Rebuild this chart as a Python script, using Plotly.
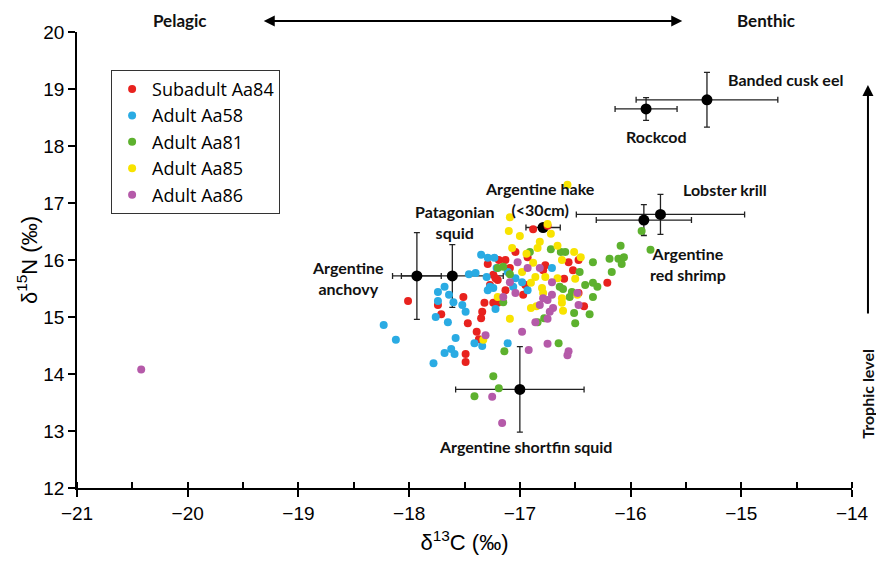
import plotly.graph_objects as go

# ---------------- data ----------------
group_names = ["Subadult Aa84", "Adult Aa58", "Adult Aa81", "Adult Aa85", "Adult Aa86"]
group_colors = ["#e8221e", "#2aabe3", "#5db12e", "#f8e300", "#b55aa9"]

red_c13 = [-18.01, -17.74, -17.71, -17.51, -17.47, -17.39, -17.37, -17.49, -17.49, -17.34,
           -17.35, -17.32, -17.24, -17.20, -17.29, -17.24, -17.20, -16.88, -16.75, -17.04,
           -17.13, -17.19, -16.93, -16.77, -16.79, -16.56, -16.47, -16.52, -16.60, -16.95,
           -17.22, -16.97, -16.21, -16.47, -16.42, -17.13, -17.09, -17.27]
red_n15 = [15.28, 15.21, 15.05, 15.35, 14.89, 14.74, 14.61, 14.35, 14.21, 15.09,
           14.98, 15.25, 15.25, 15.25, 15.93, 15.74, 15.65, 16.54, 16.60, 16.14,
           16.00, 16.00, 16.05, 15.91, 15.82, 15.96, 16.00, 15.82, 15.67, 15.56,
           15.68, 15.39, 15.60, 15.42, 15.19, 15.47, 15.86, 15.56]

blue_c13 = [-18.23, -18.12, -17.78, -17.76, -17.74, -17.74, -17.65, -17.64, -17.60, -17.52,
            -17.49, -17.58, -17.68, -17.62, -17.59, -17.41, -17.34, -17.29, -17.22, -17.35,
            -17.29, -17.23, -17.46, -17.40, -17.30, -17.27, -17.68, -16.71, -17.04, -17.06,
            -16.93, -17.11, -17.24, -17.21, -17.11, -16.98]
blue_n15 = [14.86, 14.60, 14.19, 15.00, 15.28, 15.44, 14.91, 15.39, 15.26, 15.21,
            15.09, 14.63, 14.37, 14.44, 14.35, 14.54, 14.49, 15.47, 15.14, 16.09,
            16.04, 16.04, 15.75, 15.77, 15.70, 15.53, 15.53, 15.86, 15.68, 15.53,
            15.47, 15.79, 15.51, 15.86, 14.54, 15.61]

green_c13 = [-17.20, -16.91, -16.72, -16.63, -16.59, -16.34, -16.19, -16.11, -16.06, -16.08,
             -16.09, -16.17, -16.46, -17.15, -17.09, -16.64, -16.61, -16.53, -16.41, -16.34,
             -16.30, -16.55, -16.34, -17.15, -16.84, -16.78, -16.51, -16.50, -16.37, -16.65,
             -17.14, -17.24, -17.19, -17.41, -15.82, -15.90]
green_n15 = [15.86, 16.14, 16.19, 16.14, 16.14, 15.96, 16.02, 16.02, 16.05, 15.93,
             16.25, 15.79, 15.79, 15.88, 15.75, 15.53, 15.49, 15.44, 15.56, 15.60,
             15.53, 15.35, 15.35, 15.26, 14.91, 14.98, 15.07, 14.89, 15.05, 14.54,
             14.40, 13.96, 13.75, 13.61, 16.18, 16.51]

yellow_c13 = [-16.57, -17.09, -17.10, -17.00, -16.72, -16.75, -16.82, -16.84, -17.07, -16.94,
              -16.66, -16.51, -16.45, -16.62, -16.88, -16.86, -16.77, -16.98, -16.66, -16.50,
              -16.80, -16.90, -16.79, -17.20, -16.62, -16.48, -17.09, -16.90, -16.85, -16.61,
              -16.62, -17.33]
yellow_n15 = [17.32, 16.75, 16.51, 16.42, 16.46, 16.63, 16.32, 16.21, 16.21, 16.11,
              16.25, 16.14, 16.05, 16.00, 15.95, 15.70, 15.70, 15.79, 15.68, 15.67,
              15.51, 15.60, 15.42, 15.35, 15.33, 15.39, 14.97, 15.16, 15.19, 15.11,
              15.25, 14.60]

purple_c13 = [-20.42, -17.02, -16.93, -16.82, -16.71, -17.09, -17.04, -16.79, -17.15, -16.48,
              -16.71, -16.75, -16.70, -16.73, -16.82, -16.86, -16.75, -16.98, -16.92, -16.75,
              -16.56, -16.57, -16.47, -17.31, -17.25, -17.16]
purple_n15 = [14.08, 15.96, 15.86, 15.86, 15.61, 15.61, 15.42, 15.33, 15.35, 15.42,
              15.39, 15.30, 15.16, 15.09, 15.21, 14.91, 14.97, 14.74, 14.42, 14.53,
              14.40, 14.33, 15.21, 14.68, 13.60, 13.14]

# prey means (mean +/- SD)
prey_names = ["Argentine anchovy", "Patagonian squid", "Argentine hake (<30cm)", "Rockcod",
              "Banded cusk eel", "Lobster krill", "Argentine red shrimp", "Argentine shortfin squid"]
prey_c13 = [-17.93, -17.61, -16.79, -15.86, -15.31, -15.73, -15.88, -17.00]
prey_n15 = [15.72, 15.72, 16.57, 18.65, 18.81, 16.80, 16.70, 13.73]
prey_c13_sd = [0.22, 0.46, 0.155, 0.28, 0.64, 0.76, 0.43, 0.58]
prey_n15_sd = [0.76, 0.55, 0.05, 0.20, 0.48, 0.35, 0.27, 0.75]

# label text and anchor (data units)
label_text = ["Argentine<br>anchovy", "Patagonian<br>squid", "Argentine hake<br>(&lt;30cm)", "Rockcod",
              "Banded cusk eel", "Lobster krill", "Argentine<br>red shrimp", "Argentine shortfin squid"]
label_x = [-18.55, -17.59, -16.82, -15.77, -14.60, -15.15, -15.48, -16.95]
label_y = [15.68, 16.67, 17.07, 18.16, 19.16, 17.23, 15.93, 12.72]

x_ticks = [-21, -20, -19, -18, -17, -16, -15, -14]
y_ticks = [12, 13, 14, 15, 16, 17, 18, 19, 20]

groups_c13 = [red_c13, blue_c13, green_c13, yellow_c13, purple_c13]
groups_n15 = [red_n15, blue_n15, green_n15, yellow_n15, purple_n15]

# ---------------- figure ----------------
fig = go.Figure()

fig.add_trace(go.Scatter(
    x=prey_c13, y=prey_n15, mode="markers", showlegend=False, name="Prey",
    text=prey_names, hoverinfo="text+x+y",
    marker=dict(color="black", size=11),
    error_x=dict(type="data", array=prey_c13_sd, color="#222", thickness=1.3, width=3),
    error_y=dict(type="data", array=prey_n15_sd, color="#222", thickness=1.3, width=3),
))

for name, color, xs, ys in zip(group_names, group_colors, groups_c13, groups_n15):
    fig.add_trace(go.Scatter(
        x=xs, y=ys, mode="markers", name=name,
        marker=dict(color=color, size=8, line=dict(width=0)),
    ))

ann_font = dict(family="Lato, Open Sans, sans-serif", size=16, color="#111")
top_font = dict(family="Lato, Open Sans, sans-serif", size=17, color="#111")
for t, lx, ly in zip(label_text, label_x, label_y):
    fig.add_annotation(x=lx, y=ly, text="<b>" + t + "</b>", showarrow=False,
                       font=ann_font, xref="x", yref="y",
                       xanchor="center", yanchor="middle")

# pelagic / benthic (above the plot area, paper coordinates)
fig.add_annotation(x=0.133, y=1.026, xref="paper", yref="paper", text="<b>Pelagic</b>",
                   showarrow=False, font=top_font, xanchor="center", yanchor="middle")
fig.add_annotation(x=0.889, y=1.026, xref="paper", yref="paper", text="<b>Benthic</b>",
                   showarrow=False, font=top_font, xanchor="center", yanchor="middle")
fig.add_annotation(x=0.781, y=1.024, xref="paper", yref="paper", ax=-420, ay=0,
                   text="", showarrow=True, arrowhead=2, startarrowhead=2,
                   arrowside="end+start", arrowsize=1.1, arrowwidth=2, arrowcolor="black")
# trophic level
fig.add_annotation(x=1.0206, y=0.884, xref="paper", yref="paper", ax=0, ay=230,
                   text="", showarrow=True, arrowhead=2, arrowsize=1.1, arrowwidth=2,
                   arrowcolor="black")
fig.add_annotation(x=1.019, y=0.206, xref="paper", yref="paper", text="<b>Trophic level</b>",
                   showarrow=False, textangle=-90, font=ann_font,
                   xanchor="center", yanchor="middle")

tick_font = dict(family="Liberation Sans, Arial, sans-serif", size=19, color="black")
title_font = dict(family="Liberation Sans, Arial, sans-serif", size=22, color="black")
fig.update_xaxes(range=[-21, -14], tickvals=x_ticks, ticks="outside", ticklen=7,
                 tickwidth=1.5, tickcolor="black", showline=True, linecolor="black",
                 linewidth=1.5, showgrid=False, zeroline=False, tickfont=tick_font,
                 minor=dict(dtick=0.5, ticks="inside", ticklen=6, tickwidth=1.5, tickcolor="black"),
                 title=dict(text="δ<sup>13</sup>C (‰)", font=title_font, standoff=12),
                 automargin=False)
fig.update_yaxes(range=[12, 20], tickvals=y_ticks, ticks="outside", ticklen=7,
                 tickwidth=1.5, tickcolor="black", showline=True, linecolor="black",
                 linewidth=1.5, showgrid=False, zeroline=False, tickfont=tick_font,
                 title=dict(text="δ<sup>15</sup>N (‰)", font=title_font, standoff=0),
                 automargin=False)

fig.update_layout(
    width=876, height=561,
    margin=dict(l=77, r=24, t=32, b=73),
    plot_bgcolor="white", paper_bgcolor="white",
    legend=dict(x=0.044, y=0.917, xanchor="left", yanchor="top",
                bordercolor="#333", borderwidth=1, bgcolor="white",
                font=dict(family="Open Sans, sans-serif", size=18, color="black"),
                itemsizing="trace", tracegroupgap=0),
    showlegend=True,
)

fig.write_html("out.html")
